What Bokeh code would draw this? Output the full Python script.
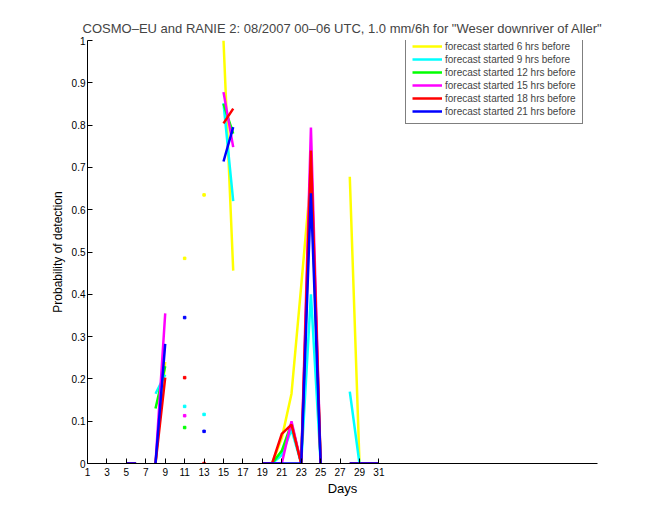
import numpy as np
from bokeh.plotting import figure
from bokeh.models import Range1d, FixedTicker, Legend, LegendItem
from bokeh.embed import file_html
from bokeh.resources import INLINE

nan = float("nan")
days = list(range(1, 32))

def series(d):
    return [d.get(k, nan) for k in days]

fc_6h = series({5: 0, 6: 0, 8: 0, 9: 0.24, 11: 0.485, 13: 0.635, 15: 1.0, 16: 0.456,
                19: 0, 20: 0, 21: 0.06, 22: 0.165, 23: 0.42, 24: 0.68, 25: 0,
                28: 0.678, 29: 0, 30: 0, 31: 0})
fc_9h = series({5: 0, 6: 0, 8: 0.165, 9: 0.21, 11: 0.135, 13: 0.116, 15: 0.852, 16: 0.62,
                19: 0, 20: 0, 21: 0.02, 22: 0.08, 23: 0, 24: 0.40, 25: 0,
                28: 0.17, 29: 0, 30: 0, 31: 0})
fc_12h = series({5: 0, 6: 0, 8: 0.13, 9: 0.23, 11: 0.085, 15: 0.85, 16: 0.78,
                 19: 0, 20: 0, 21: 0.03, 22: 0.095, 23: 0, 24: 0.70, 25: 0,
                 28: 0, 29: 0, 30: 0, 31: 0})
fc_15h = series({5: 0, 6: 0, 8: 0, 9: 0.355, 11: 0.113, 15: 0.878, 16: 0.748,
                 19: 0, 20: 0, 21: 0, 22: 0.10, 23: 0, 24: 0.794, 25: 0,
                 28: 0, 29: 0, 30: 0, 31: 0})
fc_18h = series({5: 0, 6: 0, 8: 0, 9: 0.203, 11: 0.203, 13: 0, 15: 0.804, 16: 0.839,
                 19: 0, 20: 0, 21: 0.07, 22: 0.092, 23: 0, 24: 0.74, 25: 0,
                 28: 0, 29: 0, 30: 0, 31: 0})
fc_21h = series({5: 0, 6: 0, 8: 0, 9: 0.283, 11: 0.345, 13: 0.076, 15: 0.714, 16: 0.795,
                 19: 0, 20: 0, 21: 0, 22: 0, 23: 0, 24: 0.639, 25: 0,
                 28: 0, 29: 0, 30: 0, 31: 0})

series_values = [fc_6h, fc_9h, fc_12h, fc_15h, fc_18h, fc_21h]
series_labels = ["forecast started 6 hrs before", "forecast started 9 hrs before",
                 "forecast started 12 hrs before", "forecast started 15 hrs before",
                 "forecast started 18 hrs before", "forecast started 21 hrs before"]
series_colors = ["#ffff00", "#00ffff", "#00ff00", "#ff00ff", "#ff0000", "#0000ff"]

xtick_values = list(range(1, 32, 2))
ytick_values = [0, 0.1, 0.2, 0.3, 0.4, 0.5, 0.6, 0.7, 0.8, 0.9, 1]
ytick_labels = ["0", "0.1", "0.2", "0.3", "0.4", "0.5", "0.6", "0.7", "0.8", "0.9", "1"]

FONT = "Liberation Sans"

p = figure(width=660, height=520, output_backend="svg", toolbar_location=None,
           x_range=Range1d(1, 53.5), y_range=Range1d(0, 1),
           min_border_left=87, min_border_right=63, min_border_top=40, min_border_bottom=57,
           title='COSMO\u2013EU and RANIE 2: 08/2007 00\u201306 UTC, 1.0 mm/6h for "Weser downriver of Aller"')
p.title.align = "center"
p.title.text_font = FONT
p.title.text_font_size = "13px"
p.title.text_font_style = "normal"
p.outline_line_color = None
p.xgrid.visible = False
p.ygrid.visible = False
p.background_fill_color = "white"
p.border_fill_color = "white"

for ax in (p.xaxis[0], p.yaxis[0]):
    ax.major_tick_in = 5
    ax.major_tick_out = 0
    ax.minor_tick_in = 0
    ax.minor_tick_out = 0
    ax.axis_line_color = "black"
    ax.major_tick_line_color = "black"
    ax.major_label_text_font = FONT
    ax.major_label_text_font_size = "10px"
    ax.major_label_text_color = "black"
    ax.axis_label_text_font = FONT
    ax.axis_label_text_font_style = "normal"
    ax.axis_label_text_color = "black"

p.xaxis[0].ticker = FixedTicker(ticks=xtick_values)
p.xaxis[0].axis_label = "Days"
p.xaxis[0].axis_label_text_font_size = "13px"
p.xaxis[0].major_label_standoff = 4
p.xaxis[0].axis_label_standoff = 2
p.yaxis[0].ticker = FixedTicker(ticks=ytick_values)
p.yaxis[0].major_label_overrides = {v: s for v, s in zip(ytick_values, ytick_labels)}
p.yaxis[0].axis_label = "Probability of detection"
p.yaxis[0].axis_label_text_font_size = "12px"
p.yaxis[0].major_label_standoff = 2
p.yaxis[0].axis_label_standoff = 4

items = []
for vals, lab, col in zip(series_values, series_labels, series_colors):
    r = p.line(days, vals, line_color=col, line_width=2.5)
    # isolated points (no neighbours) show as small dots
    arr = np.array(vals, dtype=float)
    iso_x, iso_y = [], []
    for i, v in enumerate(arr):
        if np.isnan(v):
            continue
        left = arr[i - 1] if i > 0 else nan
        right = arr[i + 1] if i < len(arr) - 1 else nan
        if np.isnan(left) and np.isnan(right):
            iso_x.append(days[i]); iso_y.append(v)
    if iso_x:
        p.scatter(iso_x, iso_y, marker="square", size=2.5, fill_color=col, line_color=col)
    items.append(LegendItem(label=lab, renderers=[r]))

legend = Legend(items=items, location=(318, 339))
legend.border_line_color = "black"
legend.border_line_width = 1
legend.background_fill_color = "white"
legend.background_fill_alpha = 1
legend.label_text_font = FONT
legend.label_text_font_size = "10px"
legend.glyph_width = 30
legend.glyph_height = 12
legend.label_height = 12
legend.spacing = 1
legend.padding = 6
legend.margin = 0
legend.label_standoff = 3
p.add_layout(legend, "center")

open("out.html", "w").write(file_html(p, INLINE))
